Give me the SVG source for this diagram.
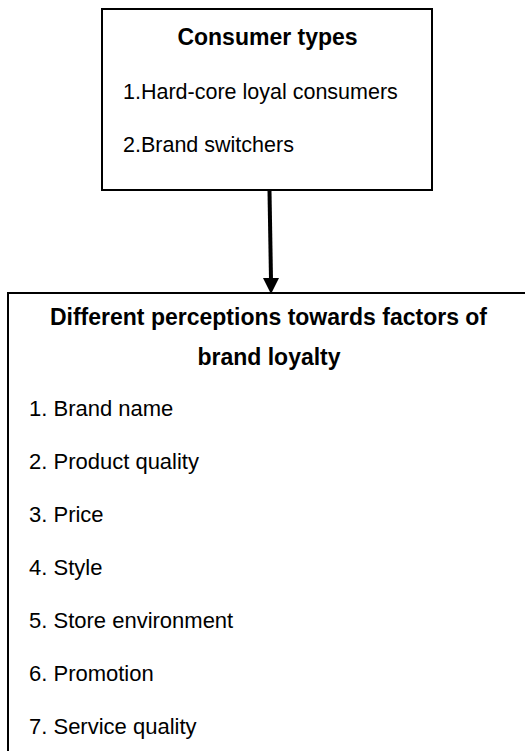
<svg xmlns="http://www.w3.org/2000/svg" width="525" height="751" viewBox="0 0 525 751">
<style>
.box{fill:#fff;stroke:#000;stroke-width:2}
.t{font-family:"Liberation Sans",Arial,sans-serif;font-size:22px;fill:#000}
.b{font-family:"Liberation Sans",Arial,sans-serif;font-size:23px;font-weight:bold;fill:#000;text-anchor:middle}
</style>
<rect width="525" height="751" fill="#fff"/>
<g id="consumer-types">
<rect class="box" x="102" y="9" width="330" height="181"/>
<text class="b" x="267.5" y="45">Consumer types</text>
<text class="t" x="123" y="99" style="font-size:21.5px">1.Hard-core loyal consumers</text>
<text class="t" x="123" y="152" style="font-size:21.5px">2.Brand switchers</text>
</g>
<g id="connectors">
<line x1="269.5" y1="191" x2="271" y2="280" stroke="#000" stroke-width="4"/>
<polygon points="263,278 279,278 271,294" fill="#000"/>
</g>
<g id="perceptions">
<rect class="box" x="8" y="293" width="540" height="500"/>
<text class="b" x="268.5" y="325">Different perceptions towards factors of</text>
<text class="b" x="269" y="365">brand loyalty</text>
<text class="t" x="29" y="416">1. Brand name</text>
<text class="t" x="29" y="469">2. Product quality</text>
<text class="t" x="29" y="522">3. Price</text>
<text class="t" x="29" y="575">4. Style</text>
<text class="t" x="29" y="628">5. Store environment</text>
<text class="t" x="29" y="681">6. Promotion</text>
<text class="t" x="29" y="734">7. Service quality</text>
</g>
</svg>
